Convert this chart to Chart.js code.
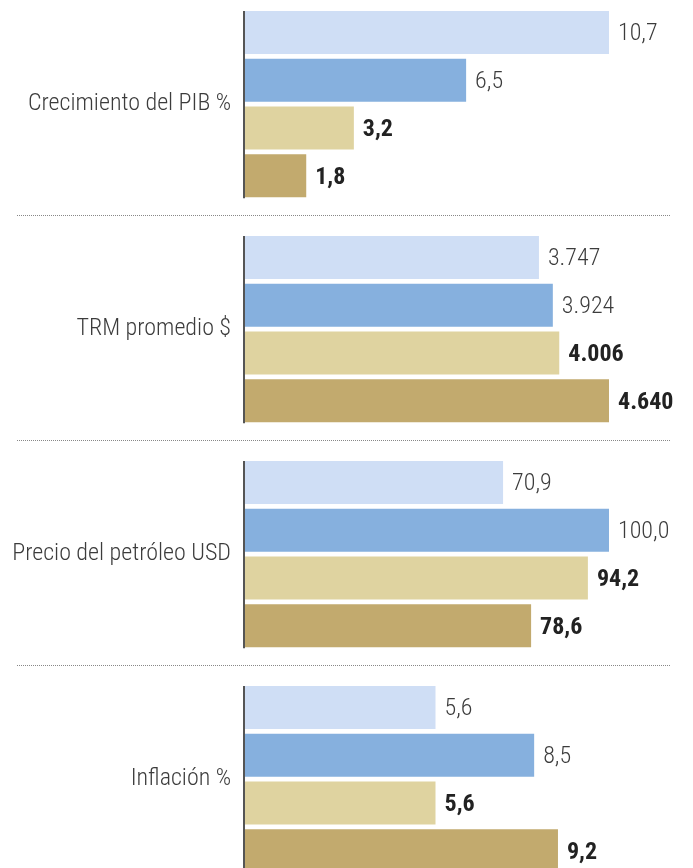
<!DOCTYPE html>
<html>
<head>
<meta charset="utf-8">
<script src="https://cdn.jsdelivr.net/npm/chart.js@4.4.1/dist/chart.umd.min.js"></script>
<style>
  html, body { margin: 0; padding: 0; background: #fff; }
  #wrap { position: relative; width: 693px; height: 868px; overflow: hidden; }
  .grp { position: absolute; left: 0; width: 693px; height: 225px; }
</style>
</head>
<body>
<div id="wrap"></div>
<script>
const FONT = '"Roboto Condensed", "Liberation Sans Narrow", Roboto, sans-serif';

// Grupos (filas) y las cuatro series
const grupos = ["Crecimiento del PIB %", "TRM promedio $", "Precio del petróleo USD", "Inflación %"];
const serie1 = [10.7, 3747, 70.9, 5.6];
const serie2 = [6.5, 3924, 100.0, 8.5];
const serie3 = [3.2, 4006, 94.2, 5.6];
const serie4 = [1.8, 4640, 78.6, 9.2];
// cada grupo tiene su propia escala (los % comparten la misma)
const escalaMax = [10.7, 4640, 100, 10.7];
const decimales = [1, 0, 1, 1];

const series = [serie1, serie2, serie3, serie4];
const colores = ["#cfdef5", "#86b0de", "#dfd3a0", "#c2aa6e"];
const negrita = [false, false, true, true];

function fmt(v, dec) {
  const s = v.toFixed(dec);
  let [ent, fr] = s.split(".");
  ent = ent.replace(/\B(?=(\d{3})+(?!\d))/g, ".");
  return fr ? ent + "," + fr : ent;
}

const extras = {
  id: "extras",
  afterDatasetsDraw(chart, args, opts) {
    const ctx = chart.ctx;
    const g = opts.grupo;
    let top = Infinity, bottom = -Infinity;
    ctx.save();
    ctx.textBaseline = "middle";
    ctx.textAlign = "left";
    chart.data.datasets.forEach((ds, i) => {
      const bar = chart.getDatasetMeta(i).data[0];
      const h = bar.height;
      top = Math.min(top, bar.y - h / 2);
      bottom = Math.max(bottom, bar.y + h / 2);
      ctx.font = (negrita[i] ? "bold " : "300 ") + "24px " + FONT;
      ctx.fillStyle = negrita[i] ? "#222" : "#3c3c3c";
      ctx.fillText(fmt(ds.data[0], decimales[g]), bar.x + 9, bar.y + 2);
    });
    // eje vertical
    const x0 = chart.scales.x.getPixelForValue(0);
    ctx.strokeStyle = "#555";
    ctx.lineWidth = 2;
    ctx.beginPath();
    ctx.moveTo(x0 - 1, top);
    ctx.lineTo(x0 - 1, bottom + 1);
    ctx.stroke();
    // separador punteado
    ctx.strokeStyle = "#888";
    ctx.lineWidth = 1;
    ctx.setLineDash([1, 1]);
    ctx.beginPath();
    ctx.moveTo(17, chart.height - 0.5);
    ctx.lineTo(670, chart.height - 0.5);
    ctx.stroke();
    ctx.restore();
  }
};

const wrap = document.getElementById("wrap");
grupos.forEach((nombre, g) => {
  const div = document.createElement("div");
  div.className = "grp";
  div.style.top = (225 * g - 9) + "px";
  const cv = document.createElement("canvas");
  cv.width = 693;
  cv.height = 225;
  div.appendChild(cv);
  wrap.appendChild(div);

  new Chart(cv, {
    type: "bar",
    data: {
      labels: [nombre],
      datasets: series.map((s, i) => ({
        label: "Serie " + (i + 1),
        data: [s[g]],
        backgroundColor: colores[i],
        borderWidth: 0,
        barPercentage: 0.9,
        categoryPercentage: 1
      }))
    },
    options: {
      indexAxis: "y",
      responsive: false,
      maintainAspectRatio: false,
      animation: false,
      events: [],
      layout: { padding: { top: 17.6, bottom: 16.4, right: 84, left: 0 } },
      plugins: {
        legend: { display: false },
        tooltip: { enabled: false },
        extras: { grupo: g }
      },
      scales: {
        x: {
          min: 0, max: escalaMax[g],
          display: false,
          grid: { display: false }
        },
        y: {
          grid: { display: false, drawTicks: false },
          border: { display: false },
          ticks: { color: "#3c3c3c", padding: 14, font: { family: FONT, size: 24, weight: "300", lineHeight: 0.2 } },
          afterFit(scale) { scale.width = 245; scale.paddingTop = 0; scale.paddingBottom = 0; }
        }
      }
    },
    plugins: [extras]
  });
});
</script>
</body>
</html>
